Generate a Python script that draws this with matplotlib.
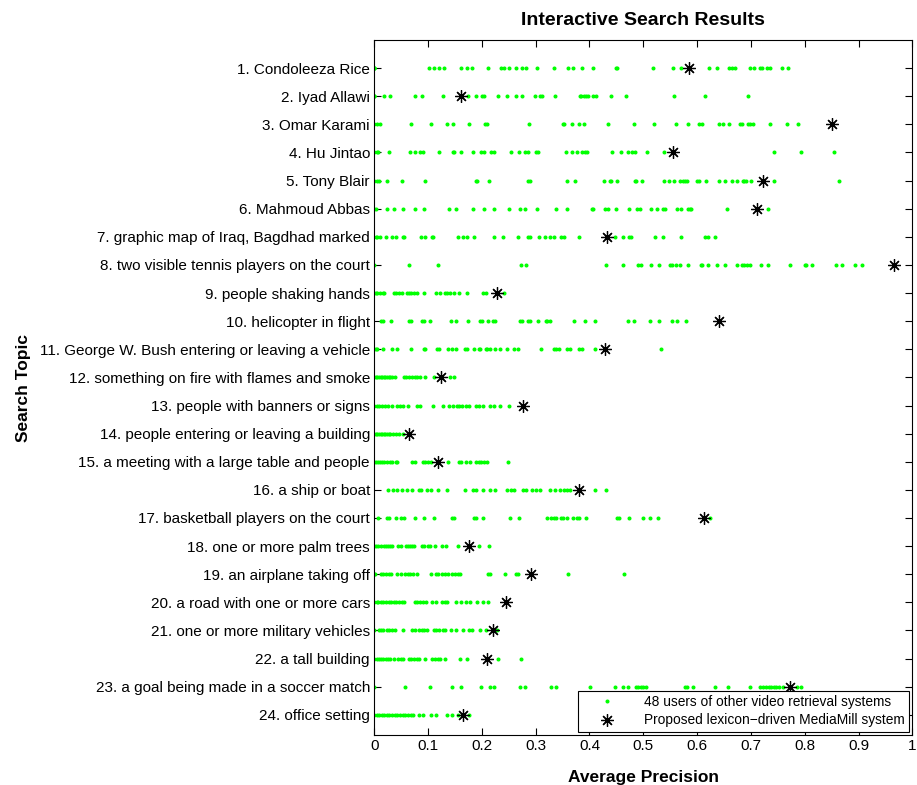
import matplotlib
matplotlib.use('Agg')
import matplotlib.pyplot as plt
import numpy as np

plt.rcParams['font.family'] = ['Liberation Sans', 'DejaVu Sans']

topics = ["1. Condoleeza Rice", "2. Iyad Allawi", "3. Omar Karami", "4. Hu Jintao",
          "5. Tony Blair", "6. Mahmoud Abbas", "7. graphic map of Iraq, Bagdhad marked",
          "8. two visible tennis players on the court", "9. people shaking hands",
          "10. helicopter in flight", "11. George W. Bush entering or leaving a vehicle",
          "12. something on fire with flames and smoke", "13. people with banners or signs",
          "14. people entering or leaving a building", "15. a meeting with a large table and people",
          "16. a ship or boat", "17. basketball players on the court", "18. one or more palm trees",
          "19. an airplane taking off", "20. a road with one or more cars",
          "21. one or more military vehicles", "22. a tall building",
          "23. a goal being made in a soccer match", "24. office setting"]

# average precision of the proposed system, one per topic
mediamill = [0.585, 0.162, 0.851, 0.556, 0.722, 0.712, 0.432, 0.966, 0.229, 0.640, 0.429, 0.124,
             0.277, 0.065, 0.118, 0.380, 0.612, 0.176, 0.291, 0.245, 0.220, 0.210, 0.772, 0.166]

# other users, per topic (overlapping dots merged)
t01 = [0, 0, 0, 0, 0.102, 0.111, 0.120, 0.129, 0.161, 0.172, 0.181, 0.212, 0.236, 0.241, 0.251, 0.263,
       0.275, 0.283, 0.302, 0.334, 0.361, 0.370, 0.387, 0.406, 0.449, 0.452, 0.518, 0.555, 0.570,
       0.622, 0.637, 0.659, 0.664, 0.670, 0.698, 0.706, 0.717, 0.721, 0.729, 0.736, 0.757, 0.769]
t02 = [0, 0, 0, 0.019, 0.029, 0.076, 0.089, 0.128, 0.175, 0.190, 0.201, 0.204, 0.231, 0.246, 0.264,
       0.275, 0.298, 0.308, 0.312, 0.336, 0.382, 0.385, 0.389, 0.393, 0.398, 0.406, 0.412, 0.440,
       0.467, 0.557, 0.615, 0.694]
t03 = [0, 0.005, 0.010, 0.069, 0.106, 0.136, 0.146, 0.176, 0.206, 0.210, 0.287, 0.350, 0.353, 0.367,
       0.381, 0.390, 0.435, 0.483, 0.519, 0.560, 0.583, 0.604, 0.610, 0.640, 0.649, 0.659, 0.679,
       0.683, 0.694, 0.699, 0.704, 0.735, 0.767, 0.788]
t04 = [0, 0.005, 0.008, 0.028, 0.067, 0.075, 0.085, 0.091, 0.120, 0.146, 0.149, 0.161, 0.183, 0.199,
       0.204, 0.217, 0.223, 0.255, 0.270, 0.281, 0.285, 0.301, 0.304, 0.356, 0.367, 0.376, 0.387,
       0.391, 0.395, 0.442, 0.458, 0.471, 0.479, 0.484, 0.506, 0.539, 0.742, 0.793, 0.854]
t05 = [0, 0.005, 0.009, 0.024, 0.051, 0.095, 0.189, 0.192, 0.214, 0.285, 0.290, 0.358, 0.374, 0.427,
       0.438, 0.440, 0.452, 0.484, 0.487, 0.498, 0.538, 0.547, 0.557, 0.569, 0.573, 0.578, 0.582,
       0.599, 0.604, 0.616, 0.641, 0.652, 0.664, 0.675, 0.685, 0.688, 0.691, 0.701, 0.743, 0.864]
t06 = [0, 0.003, 0.024, 0.037, 0.053, 0.075, 0.092, 0.139, 0.152, 0.183, 0.205, 0.222, 0.250, 0.271,
       0.280, 0.303, 0.337, 0.358, 0.404, 0.407, 0.429, 0.434, 0.450, 0.474, 0.488, 0.493, 0.514,
       0.525, 0.536, 0.541, 0.562, 0.571, 0.583, 0.586, 0.589, 0.655, 0.731]
t07 = [0.003, 0.006, 0.011, 0.022, 0.034, 0.040, 0.053, 0.056, 0.087, 0.094, 0.107, 0.110, 0.155,
       0.166, 0.172, 0.186, 0.222, 0.239, 0.268, 0.285, 0.290, 0.306, 0.317, 0.326, 0.335, 0.347,
       0.353, 0.381, 0.448, 0.463, 0.474, 0.477, 0.521, 0.537, 0.571, 0.615, 0.620, 0.633]
t08 = [0, 0.064, 0.118, 0.273, 0.282, 0.431, 0.462, 0.491, 0.495, 0.514, 0.530, 0.550, 0.553, 0.560,
       0.568, 0.584, 0.607, 0.609, 0.620, 0.637, 0.652, 0.674, 0.684, 0.688, 0.692, 0.699, 0.719,
       0.732, 0.772, 0.800, 0.802, 0.813, 0.858, 0.869, 0.894, 0.907]
t09 = [0, 0.003, 0.006, 0.011, 0.016, 0.019, 0.037, 0.041, 0.047, 0.052, 0.061, 0.065, 0.069, 0.074,
       0.079, 0.093, 0.115, 0.123, 0.132, 0.136, 0.141, 0.149, 0.157, 0.173, 0.202, 0.207, 0.241]
t10 = [0.013, 0.017, 0.032, 0.064, 0.069, 0.089, 0.093, 0.104, 0.142, 0.153, 0.175, 0.196, 0.200,
       0.212, 0.220, 0.224, 0.271, 0.275, 0.286, 0.289, 0.304, 0.319, 0.322, 0.326, 0.372, 0.391,
       0.411, 0.472, 0.482, 0.512, 0.530, 0.553, 0.562, 0.580]
t11 = [0, 0.003, 0.006, 0.017, 0.034, 0.043, 0.069, 0.092, 0.095, 0.117, 0.121, 0.137, 0.145, 0.153,
       0.168, 0.173, 0.186, 0.194, 0.197, 0.207, 0.210, 0.215, 0.225, 0.233, 0.246, 0.260, 0.268,
       0.310, 0.334, 0.338, 0.343, 0.359, 0.364, 0.380, 0.387, 0.411, 0.532]
t12 = [0, 0.003, 0.006, 0.009, 0.012, 0.015, 0.018, 0.021, 0.024, 0.027, 0.030, 0.034, 0.038, 0.055,
       0.060, 0.065, 0.070, 0.075, 0.080, 0.085, 0.095, 0.111, 0.141, 0.149]
t13 = [0, 0.005, 0.009, 0.014, 0.021, 0.026, 0.034, 0.043, 0.048, 0.053, 0.063, 0.079, 0.085, 0.110,
       0.128, 0.139, 0.147, 0.154, 0.158, 0.163, 0.170, 0.176, 0.189, 0.194, 0.202, 0.216, 0.222,
       0.234, 0.251]
t14 = [0, 0.003, 0.006, 0.009, 0.012, 0.015, 0.018, 0.021, 0.024, 0.027, 0.030, 0.035, 0.040, 0.047,
       0.053]
t15 = [0, 0.003, 0.007, 0.011, 0.014, 0.019, 0.024, 0.029, 0.034, 0.040, 0.043, 0.071, 0.076, 0.091,
       0.095, 0.100, 0.105, 0.137, 0.158, 0.162, 0.170, 0.179, 0.189, 0.194, 0.199, 0.204, 0.210,
       0.249]
t16 = [0.025, 0.035, 0.042, 0.051, 0.061, 0.071, 0.084, 0.087, 0.098, 0.106, 0.118, 0.136, 0.168,
       0.184, 0.190, 0.202, 0.216, 0.225, 0.247, 0.254, 0.259, 0.277, 0.282, 0.293, 0.301, 0.308,
       0.327, 0.336, 0.345, 0.352, 0.358, 0.363, 0.411, 0.431]
t17 = [0.008, 0.024, 0.028, 0.040, 0.050, 0.056, 0.076, 0.092, 0.111, 0.144, 0.149, 0.186, 0.189,
       0.203, 0.252, 0.270, 0.322, 0.328, 0.335, 0.338, 0.347, 0.351, 0.358, 0.370, 0.376, 0.380,
       0.393, 0.451, 0.455, 0.474, 0.500, 0.512, 0.527, 0.624]
t18 = [0, 0.004, 0.008, 0.013, 0.018, 0.022, 0.026, 0.030, 0.034, 0.045, 0.050, 0.060, 0.063, 0.066,
       0.071, 0.074, 0.089, 0.092, 0.100, 0.104, 0.113, 0.126, 0.134, 0.155, 0.194, 0.214]
t19 = [0, 0.001, 0.013, 0.017, 0.022, 0.027, 0.032, 0.043, 0.050, 0.058, 0.063, 0.066, 0.073, 0.079,
       0.105, 0.115, 0.118, 0.126, 0.131, 0.137, 0.144, 0.150, 0.155, 0.159, 0.211, 0.215, 0.244,
       0.264, 0.268, 0.361, 0.464]
t20 = [0, 0.005, 0.008, 0.013, 0.017, 0.022, 0.027, 0.032, 0.037, 0.041, 0.047, 0.052, 0.056, 0.076,
       0.080, 0.085, 0.091, 0.097, 0.108, 0.115, 0.126, 0.131, 0.136, 0.152, 0.162, 0.171, 0.179,
       0.192, 0.202, 0.212]
t21 = [0, 0.009, 0.013, 0.017, 0.024, 0.028, 0.034, 0.038, 0.053, 0.071, 0.076, 0.084, 0.089, 0.093,
       0.098, 0.111, 0.115, 0.120, 0.128, 0.132, 0.143, 0.152, 0.165, 0.176, 0.181, 0.196, 0.207,
       0.228]
t22 = [0, 0.005, 0.009, 0.013, 0.017, 0.022, 0.026, 0.030, 0.037, 0.045, 0.050, 0.054, 0.065, 0.069,
       0.074, 0.079, 0.084, 0.094, 0.108, 0.113, 0.118, 0.123, 0.131, 0.160, 0.172, 0.231, 0.272]
t23 = [0, 0.058, 0.104, 0.144, 0.161, 0.198, 0.216, 0.223, 0.271, 0.280, 0.329, 0.338, 0.401, 0.447,
       0.463, 0.471, 0.486, 0.490, 0.495, 0.500, 0.505, 0.578, 0.582, 0.593, 0.633, 0.657, 0.698,
       0.717, 0.722, 0.728, 0.733, 0.738, 0.743, 0.747, 0.753, 0.759, 0.785, 0.793]
t24 = [0, 0.005, 0.009, 0.014, 0.019, 0.024, 0.028, 0.033, 0.039, 0.043, 0.048, 0.053, 0.058, 0.063,
       0.068, 0.072, 0.084, 0.091, 0.106, 0.115, 0.136, 0.144, 0.155, 0.176]

others = [t01, t02, t03, t04, t05, t06, t07, t08, t09, t10, t11, t12,
          t13, t14, t15, t16, t17, t18, t19, t20, t21, t22, t23, t24]

xticks = [0, 0.1, 0.2, 0.3, 0.4, 0.5, 0.6, 0.7, 0.8, 0.9, 1]
xticklabels = ["0", "0.1", "0.2", "0.3", "0.4", "0.5", "0.6", "0.7", "0.8", "0.9", "1"]

fig = plt.figure(figsize=(9.17, 7.85), dpi=100)
ax = fig.add_axes([0.408, 0.0637, 0.587, 0.8853])

for i in range(len(others)):
    vals = others[i]
    ax.plot(vals, [i + 1] * len(vals), linestyle='none', marker='o',
            markersize=1.9, markerfacecolor=(0, 1, 0), markeredgecolor=(0, 1, 0),
            label='48 users of other video retrieval systems' if i == 0 else None)

ax.plot(mediamill, np.arange(1, len(mediamill) + 1), linestyle='none',
        marker=(8, 2, 0), markersize=9, markeredgewidth=0.9, color='black',
        label='Proposed lexicon\u2212driven MediaMill system')

ax.set_xlim(0, 1)
ax.set_ylim(24.72, 0)
ax.set_xticks(xticks)
ax.set_xticklabels(xticklabels)
ax.set_yticks(np.arange(1, len(topics) + 1))
ax.set_yticklabels(topics)
ax.tick_params(axis='both', which='both', direction='in', labelsize=11,
               top=True, right=True, length=5, width=0.8)
ax.tick_params(axis='y', pad=3)
ax.tick_params(axis='x', pad=3)
for s in ax.spines.values():
    s.set_linewidth(0.8)

ax.set_title('Interactive Search Results', fontsize=14, fontweight='bold', pad=11)
ax.set_xlabel('Average Precision', fontsize=12.5, fontweight='bold', labelpad=12)
ax.set_ylabel('Search Topic', fontsize=12.5, fontweight='bold', labelpad=6)

leg = ax.legend(loc='lower right', fontsize=9.9, frameon=True, fancybox=False,
                edgecolor='black', framealpha=1, borderaxespad=0.25,
                handlelength=3.6, handletextpad=0.9, borderpad=0.3, labelspacing=0.3)
leg.get_frame().set_linewidth(0.8)

fig.savefig('out.png', dpi=100)
